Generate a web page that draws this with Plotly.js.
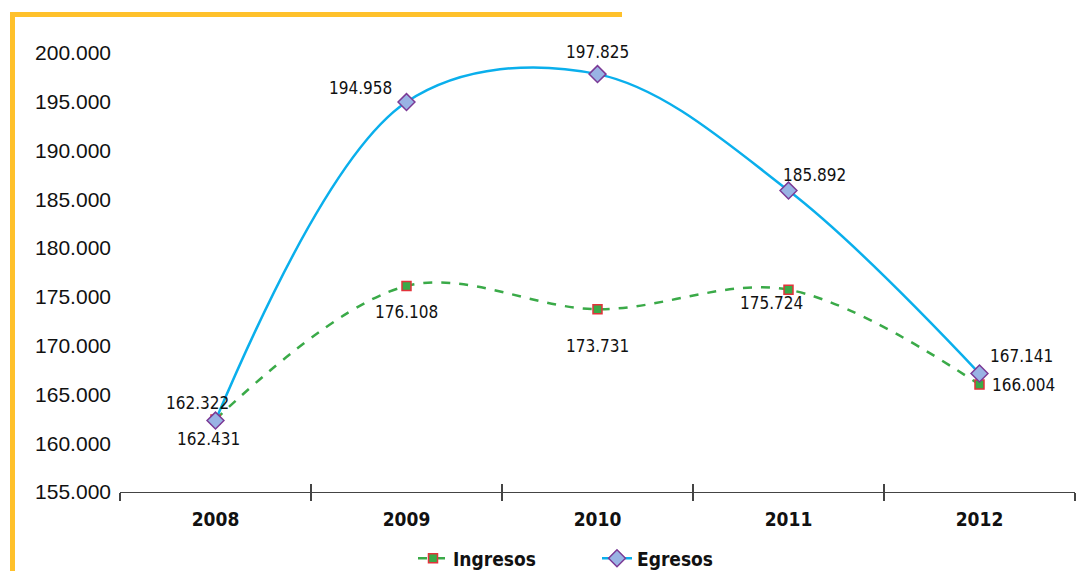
<!DOCTYPE html>
<html><head><meta charset="utf-8">
<script src="https://cdn.plot.ly/plotly-3.0.1.min.js"></script>
<style>html,body{margin:0;padding:0;background:#fff;}#c{width:1083px;height:571px;}</style>
</head><body><div id="c"></div>
<script>
const years = ['2008','2009','2010','2011','2012'];
const ingresos = [162431, 176108, 173731, 175724, 166004];
const egresos = [162322, 194958, 197825, 185892, 167141];
const ingresosLabels = ['162.431','176.108','173.731','175.724','166.004'];
const egresosLabels = ['162.322','194.958','197.825','185.892','167.141'];
// label offsets (px) -- styling only
const ingOff = [[-7,-20],[0,-26],[0,-37],[-17,-13],[44,0]];
const egrOff = [[-18,18],[-46,14],[0,22],[26,16],[42,18]];

const condensed = 'DejaVu Sans Condensed, Liberation Sans Narrow, sans-serif';
const labelFont = {family:condensed, size:17, color:'#111'};
const ann = [];
years.forEach((y,i)=>{
  ann.push({xref:'x', yref:'y', x:i, y:ingresos[i], text:ingresosLabels[i], showarrow:false, xshift:ingOff[i][0], yshift:ingOff[i][1], font:labelFont});
  ann.push({xref:'x', yref:'y', x:i, y:egresos[i], text:egresosLabels[i], showarrow:false, xshift:egrOff[i][0], yshift:egrOff[i][1], font:labelFont});
});

const traces = [
  {x:years, y:ingresos, name:'Ingresos', type:'scatter', mode:'lines+markers', cliponaxis:false,
   line:{color:'#3aaa48', width:2.5, dash:'dash', shape:'spline', smoothing:1.0},
   marker:{symbol:'square', size:9, color:'#3aaa48', line:{color:'#e2333a', width:1.5}}},
  {x:years, y:egresos, name:'Egresos', type:'scatter', mode:'lines+markers', cliponaxis:false,
   line:{color:'#0aafec', width:2.5, shape:'spline', smoothing:1.0},
   marker:{symbol:'diamond', size:13, color:'#99b3e4', line:{color:'#7b3a96', width:1.5}}},
  {x:years, y:[null,null,null,null,null], xaxis:'x2', yaxis:'y', type:'scatter', mode:'lines', showlegend:false, hoverinfo:'skip'}
];

const layout = {
  width:1083, height:571,
  margin:{l:120, r:8, t:48, b:79, autoexpand:false},
  paper_bgcolor:'#fff', plot_bgcolor:'#fff',
  separators:',.',
  showlegend:true,
  legend:{orientation:'h', xref:'paper', x:(413-120)/955, xanchor:'left', yref:'container', y:0.022, yanchor:'middle',
    entrywidth:139, entrywidthmode:'pixels',
    font:{family:condensed, size:19, color:'#111', weight:'bold'}},
  xaxis:{type:'category', range:[-0.5,4.5], tickson:'boundaries', ticks:'outside', ticklen:8, tickcolor:'#444', tickwidth:1.2,
    showline:true, linecolor:'#444', linewidth:1.2, showgrid:false, zeroline:false, ticklabelstandoff:10,
    tickfont:{family:condensed, size:19, color:'#111', weight:'bold'}},
  xaxis2:{type:'category', overlaying:'x', anchor:'y', side:'bottom', range:[-0.5,4.5], tickson:'boundaries', ticks:'inside', ticklen:8, tickcolor:'#444', tickwidth:1.2,
    showticklabels:false, showline:false, showgrid:false, zeroline:false},
  yaxis:{range:[155000,200500], tickvals:[155000,160000,165000,170000,175000,180000,185000,190000,195000,200000], tickformat:',',
    showgrid:false, zeroline:false, showline:false, ticks:'', ticklabelstandoff:8,
    tickfont:{family:'Liberation Sans, Arial, sans-serif', size:21, color:'#111'}},
  annotations:ann,
  shapes:[
    {type:'line', xref:'paper', yref:'paper', x0:(12.5-120)/955, x1:(12.5-120)/955, y0:(492-12)/444, y1:(492-575)/444, line:{color:'#ffc12b', width:5}},
    {type:'line', xref:'paper', yref:'paper', x0:(10-120)/955, x1:(622-120)/955, y0:(492-14.5)/444, y1:(492-14.5)/444, line:{color:'#ffc12b', width:5}}
  ]
};
Plotly.newPlot('c', traces, layout, {displayModeBar:false, staticPlot:true});
</script></body></html>
